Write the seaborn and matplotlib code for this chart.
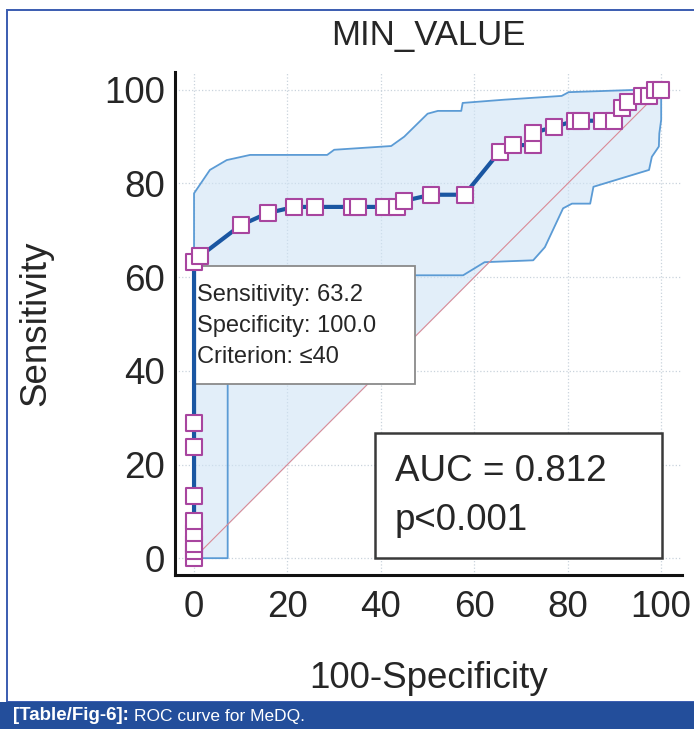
import numpy as np
import matplotlib
matplotlib.use('Agg')
import matplotlib.pyplot as plt
from matplotlib.patches import Rectangle
from matplotlib.ticker import MultipleLocator
import seaborn as sns

# ROC curve points (100-Specificity, Sensitivity)
roc_fpr = [0, 0, 0, 0, 0, 0, 0, 0, 0, 1.3, 10.0, 15.8, 21.5, 26.0, 33.9, 35.0,
           40.7, 43.4, 45.0, 50.8, 57.9, 65.4, 68.3, 72.6, 72.6, 77.1, 81.6,
           82.9, 87.3, 90.0, 91.6, 93.0, 95.9, 97.3, 98.6, 100]
roc_sens = [0, 1.6, 3.0, 5.3, 7.9, 13.2, 23.7, 28.9, 63.2, 64.5, 71.1, 73.7,
            75.0, 75.0, 75.0, 75.0, 75.0, 75.0, 76.3, 77.6, 77.6, 86.8, 88.2,
            88.2, 90.8, 92.1, 93.4, 93.4, 93.4, 93.4, 96.1, 97.4, 98.7, 98.7,
            100, 100]

# 95% confidence band
ci_up_x = [0, 0, 3.4, 7.0, 12.0, 28.5, 30.0, 42.2, 45.0, 50.0, 52.2, 57.2,
           57.5, 66.5, 78.7, 80.2, 95.0, 100]
ci_up_y = [0, 77.9, 82.9, 85.0, 86.1, 86.1, 87.2, 88.0, 90.0, 94.9, 95.5, 95.5,
           97.2, 97.9, 98.7, 99.5, 100, 100]
ci_lo_x = [0, 7.2, 7.2, 57.6, 62.2, 72.6, 75.1, 79.0, 80.9, 84.8, 85.5, 97.4,
           98.0, 99.5, 99.6, 100, 100]
ci_lo_y = [0, 0, 60.4, 60.4, 63.2, 63.6, 66.4, 74.7, 75.7, 75.7, 79.3, 82.9,
           85.7, 87.9, 90.7, 93.6, 100]

ticks = [0, 20, 40, 60, 80, 100]

sns.set_style('white')
plt.rcParams['font.family'] = ['Liberation Sans', 'DejaVu Sans']

fig = plt.figure(figsize=(6.94, 7.29), dpi=100)
ax = fig.add_axes([0.252, 0.2112, 0.731, 0.690])

# confidence band fill: down to the lower limit or the diagonal, whichever is lower
grid = np.linspace(0, 100, 2001)
up_fill = np.interp(grid, ci_up_x[1:], ci_up_y[1:])
lo_fill = np.minimum(np.interp(grid, ci_lo_x, ci_lo_y), grid)
ax.fill_between(grid, lo_fill, up_fill, color='#cfe3f5', alpha=0.6, lw=0, zorder=1)

sns.lineplot(x=ci_up_x, y=ci_up_y, ax=ax, estimator=None, sort=False,
             color='#5b9bd5', lw=1.3, zorder=2)
sns.lineplot(x=ci_lo_x, y=ci_lo_y, ax=ax, estimator=None, sort=False,
             color='#5b9bd5', lw=1.3, zorder=2)
ax.plot([0, 100], [0, 100], color='#d98a96', lw=0.8, zorder=2)

# criterion annotation box
ax.add_patch(Rectangle((0.0394, 0.3797), 0.434, 0.2346, transform=ax.transAxes,
                       facecolor='white', edgecolor='#8a8a8a', lw=1.3, zorder=3))
for yy, txt in zip([0.5567, 0.4950, 0.4334],
                   ['Sensitivity: 63.2', 'Specificity: 100.0', 'Criterion: \u226440']):
    ax.text(0.0434, yy, txt, transform=ax.transAxes, fontsize=17,
            va='center', ha='left', zorder=3.1)

sns.lineplot(x=roc_fpr, y=roc_sens, ax=ax, estimator=None, sort=False,
             color='#1a56a2', lw=3, zorder=4)
sns.scatterplot(x=roc_fpr, y=roc_sens, ax=ax, marker='s', s=140,
                facecolor='white', edgecolor='#a8459f', linewidth=1.5, zorder=5)

# AUC box
ax.add_patch(Rectangle((0.3945, 0.0338), 0.5661, 0.2485, transform=ax.transAxes,
                       facecolor='white', edgecolor='#3a3a3a', lw=1.8, zorder=6))
ax.text(0.4339, 0.2054, 'AUC = 0.812', transform=ax.transAxes, fontsize=26.5,
        va='center', ha='left', zorder=6.1)
ax.text(0.4339, 0.1093, 'p<0.001', transform=ax.transAxes, fontsize=26.5,
        va='center', ha='left', zorder=6.1)

ax.set_xlim(-4.1, 104.5)
ax.set_ylim(-3.6, 103.8)
ax.set_xticks(ticks)
ax.set_yticks(ticks)
ax.xaxis.set_minor_locator(MultipleLocator(5))
ax.yaxis.set_minor_locator(MultipleLocator(5))
ax.tick_params(which='major', direction='in', length=9.5, width=1.6,
               labelsize=26.5, color='#222222')
ax.tick_params(which='minor', direction='in', length=5, width=1.2, color='#222222')
ax.tick_params(axis='x', pad=11)
ax.tick_params(axis='y', pad=7)
ax.grid(True, which='major', color='#c9d3dc', lw=0.9, ls=':', zorder=0)
ax.set_axisbelow(True)
for side in ['top', 'right']:
    ax.spines[side].set_visible(False)
for side in ['left', 'bottom']:
    ax.spines[side].set_color('#111111')
    ax.spines[side].set_linewidth(2.2)

ax.set_xlabel('100-Specificity', fontsize=26.5, va='center')
ax.xaxis.set_label_coords(0.5, -0.2048)
ax.set_ylabel('Sensitivity', fontsize=26.5, va='center')
ax.yaxis.set_label_coords(-0.275, 0.5)
ax.text(0.5, 1.0736, 'MIN_VALUE', transform=ax.transAxes, fontsize=25,
        ha='center', va='center')

# figure frame and caption band
fig.patches.append(Rectangle((7 / 694, 27 / 729), 1.0, 1 - 10 / 729 - 27 / 729,
                             transform=fig.transFigure, fill=False,
                             edgecolor='#3a5cb0', lw=1.4))
fig.patches.append(Rectangle((0, 0), 1, 27 / 729, transform=fig.transFigure,
                             facecolor='#234e9b', edgecolor='none'))
cap_bold = fig.text(13 / 694, 13 / 729, '[Table/Fig-6]:', color='white',
                    fontsize=13.5, fontweight='bold', va='center', ha='left')
renderer = fig.canvas.get_renderer()
bb = cap_bold.get_window_extent(renderer=renderer)
fig.text((bb.x1 + 5) / 694, 13 / 729, 'ROC curve for MeDQ.', color='white',
         fontsize=12.5, va='center', ha='left')

fig.savefig('out.png', dpi=100)
